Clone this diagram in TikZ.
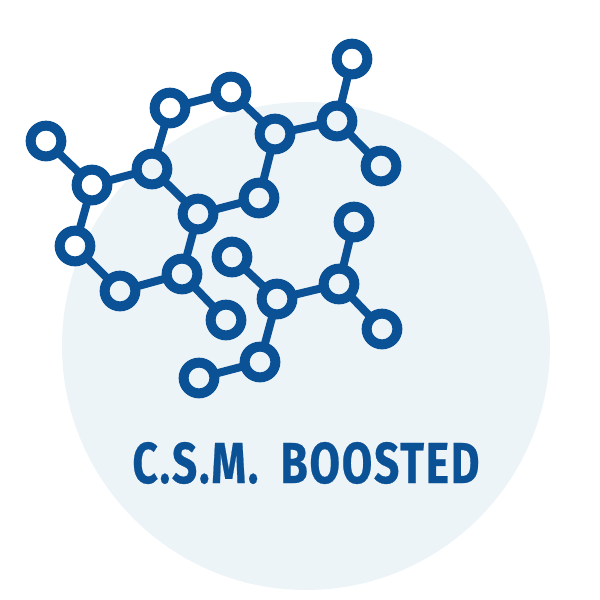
\documentclass[tikz,border=0pt]{standalone}
\usepackage{fontspec}
\setmainfont{Fira Sans}[LetterSpace=4,FakeBold=0.5]
\definecolor{csmblue}{HTML}{0B5196}
\definecolor{csmbg}{HTML}{EDF4F8}
\tikzset{
  x=1pt,y=-1pt,
  atom/.style={circle,draw=csmblue,line width=10pt,minimum size=30.7pt,inner sep=0pt},
  bond/.style={draw=csmblue,line width=8pt}
}
\begin{document}
\begin{tikzpicture}
\useasboundingbox (0,0) rectangle (600,600);
\fill[csmbg] (306,346) circle[radius=244pt];
\foreach \n/\x/\y in {a/46/141,b/92/185,c/152/169,d/170/108,e/231/92,f/275/134,g/337/121,h/352/59,i/381/166,j/259/198,k/198/214,l/182/274,m/226/320,n/120/291,o/75/246,p/232/257,q/277/299,r/339/284,s/354/222,t/382/329,u/260/362,v/199/378}
  \node[atom] (\n) at (\x,\y) {};
\foreach \s/\t in {a/b,b/c,c/d,d/e,e/f,f/g,g/h,g/i,f/j,j/k,k/c,k/l,l/m,l/n,n/o,o/b,p/q,q/r,r/s,r/t,q/u,u/v}
  \draw[bond,shorten >=-1pt,shorten <=-1pt] (\s) -- (\t);
\node[text=csmblue,inner sep=0pt] (title) at (306,463) {\resizebox{347pt}{41pt}{\bfseries C.S.M.\hspace{0.5em}BOOSTED}};
\end{tikzpicture}
\end{document}
